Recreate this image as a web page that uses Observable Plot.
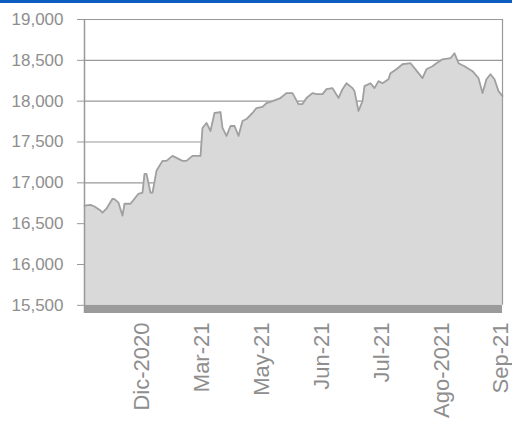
<!DOCTYPE html>
<html><head><meta charset="utf-8">
<script src="https://cdn.jsdelivr.net/npm/d3@7"></script>
<script src="https://cdn.jsdelivr.net/npm/@observablehq/plot@0.6"></script>
<style>
body{margin:0;background:#fff;width:512px;height:423px;overflow:hidden}
#bar{height:3px;background:#0d5cc0}
svg{display:block}
</style></head><body><div id="bar"></div><div id="chart"></div>
<script>
const sessions = [0,3,5,8,9,11,14,15,17,19,20,23,25,27,29,30,31,33,34,36,39,41,44,46,49,51,54,58,59,61,63,65,68,69,71,73,75,77,79,81,84,86,89,91,94,98,101,104,107,109,111,114,116,119,121,124,127,129,131,134,135,137,139,140,143,145,147,149,152,153,156,159,163,165,169,171,174,176,179,183,185,187,190,194,197,199,201,203,205,207,209];
const values = [16720,16730,16710,16660,16635,16683,16805,16800,16757,16598,16744,16744,16805,16866,16879,17110,17110,16879,16879,17147,17269,17269,17330,17306,17269,17269,17330,17330,17672,17733,17635,17855,17867,17672,17574,17696,17696,17574,17757,17781,17855,17916,17930,17977,18001,18038,18099,18099,17964,17964,18038,18099,18086,18086,18147,18160,18038,18147,18220,18160,18123,17880,18001,18184,18220,18160,18245,18220,18269,18343,18391,18452,18465,18404,18282,18391,18428,18465,18513,18526,18587,18465,18428,18367,18282,18099,18269,18330,18269,18123,18062];
const yTicks = [15500,16000,16500,17000,17500,18000,18500,19000];
const xTickSessions = [28.5,58.5,88.5,118.5,148.5,178.5,208];
const xTickLabels = ["Dic-2020","Mar-21","May-21","Jun-21","Jul-21","Ago-2021","Sep-21"];

const data = sessions.map((s, i) => ({s, v: values[i]}));
const labelMap = new Map(xTickSessions.map((t, i) => [t, xTickLabels[i]]));
const base = 15500, floorMin = 15400, yMax = 19000;
const xMin = d3.min(sessions), xMax = d3.max(sessions);

const chart = Plot.plot({
  width: 512, height: 420,
  marginLeft: 84, marginRight: 10, marginTop: 16, marginBottom: 110,
  x: {domain: [xMin, xMax], axis: null},
  y: {domain: [floorMin, yMax], axis: null},
  style: {fontFamily: "'Liberation Sans', Arial, sans-serif", background: "#fff"},
  marks: [
    Plot.ruleY(yTicks.filter(t => t > base), {stroke: "#999", strokeWidth: 1.2}),
    Plot.areaY(data, {x: "s", y1: base, y2: "v", fill: "#d9d9d9"}),
    Plot.lineY(data, {x: "s", y: "v", stroke: "#a0a0a0", strokeWidth: 1.8}),
    Plot.rect([0], {x1: xMin, x2: xMax, y1: floorMin, y2: base, fill: "#9b9b9b"}),
    Plot.ruleX([xMax], {y1: base, y2: yMax, stroke: "#999", strokeWidth: 1.2}),
    Plot.ruleX([xMin], {y1: floorMin, y2: yMax, stroke: "#999", strokeWidth: 1.5}),
    Plot.axisY({ticks: yTicks, tickFormat: d3.format(","), tickSize: 7, tickPadding: 14, fontSize: 17, fill: "#8e8e8e", stroke: "#999", label: null}),
    Plot.axisX({ticks: xTickSessions, tickFormat: d => labelMap.get(d), tickRotate: -90, tickSize: 0, tickPadding: 9, fontSize: 22, fill: "#8e8e8e", label: null})
  ]
});
document.getElementById("chart").appendChild(chart);
</script></body></html>
